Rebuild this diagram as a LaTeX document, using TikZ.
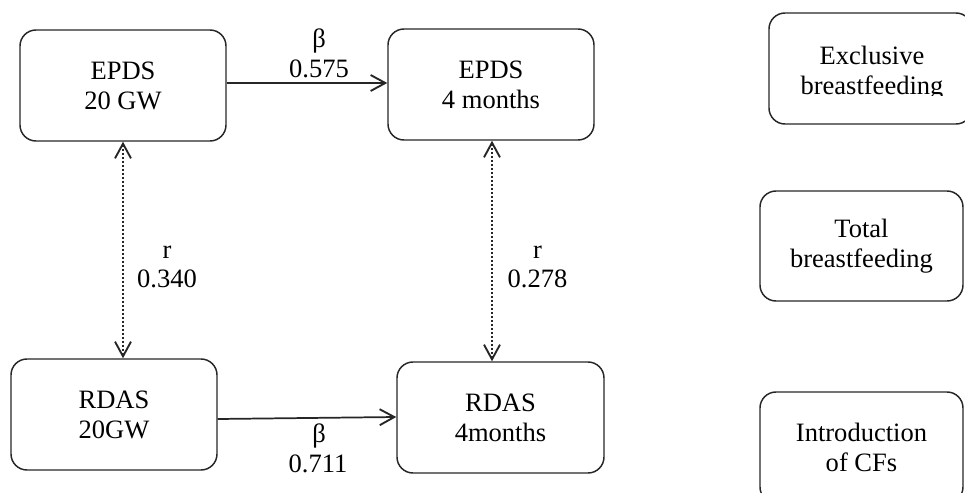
\documentclass[tikz,border=0pt]{standalone}
\usepackage{fontspec}
\setmainfont{Liberation Serif}
\usetikzlibrary{arrows.meta,calc}
\begin{document}
\begin{tikzpicture}[x=0.75pt,y=-0.75pt,
  txt/.style={font=\fontsize{19.9}{22.5}\selectfont},
  box/.style={txt, draw=black!85, line width=1.1pt, rounded corners=12pt,
    minimum width=154.5pt, minimum height=83.25pt, align=center, inner sep=0pt},
  lbl/.style={txt, anchor=base, inner sep=0pt},
  link/.style={line width=1.3pt, draw=black!85,
    -{Straight Barb[length=11pt,width=12pt,line width=1.4pt]}},
  corr/.style={line width=1.8pt, draw=black!85, dash pattern=on 1.5pt off 1.5pt,
    {Straight Barb[length=11pt,width=12pt,line width=1.4pt]}-{Straight Barb[length=11pt,width=12pt,line width=1.4pt]}}]
\useasboundingbox (0,0) rectangle (965,493);
\clip (0,0) rectangle (965,493);

% left block
\node[box] (e20) at (123,85.5) {EPDS\\20 GW};
\node[box] (e4) at (491,84.5) {EPDS\\4 months};
\node[box] (r20) at (114,414.5) {RDAS\\20GW};
\node[box, minimum width=155.25pt] (r4) at (500.5,417.5) {RDAS\\4months};

% right boxes
\node[box, minimum width=152.25pt] (ex) at (870.5,68.5) {};
\begin{scope}
  \clip (760,0) rectangle (965,95);
  \node[txt, align=center, inner sep=0pt] (extxt) at (872,73) {Exclusive\\breastfeeding};
\end{scope}
\node[box, minimum width=152.25pt, minimum height=82.5pt] (tot) at (861.5,246) {Total\\breastfeeding};
\node[box, minimum width=152.25pt] (intro) at (861.5,447.5) {Introduction\\of CFs};

% connectors
\draw[link] ($(e20.east)+(0,-2.5)$) -- ($(e4.west)+(0,-1.5)$);
\draw[link] ($(r20.east)+(0,4.5)$) -- ($(r4.west)+(0,-0.5)$);
\draw[corr] (e20.south) -- (e20.south |- r20.north);
\draw[corr] ($(e4.south)+(1,0)$) -- ($(e4.south |- r4.north)+(1,0)$);

% labels
\node[lbl] (b1) at (319,47) {β};
\node[lbl] (v1) at (319,77) {0.575};
\node[lbl] (b2) at (319,442) {β};
\node[lbl] (v2) at (318,472) {0.711};
\node[lbl] (c1) at (167,258) {r};
\node[lbl] (w1) at (167,287) {0.340};
\node[lbl] (c2) at (537.5,258) {r};
\node[lbl] (w2) at (537.5,287) {0.278};
\end{tikzpicture}
\end{document}
